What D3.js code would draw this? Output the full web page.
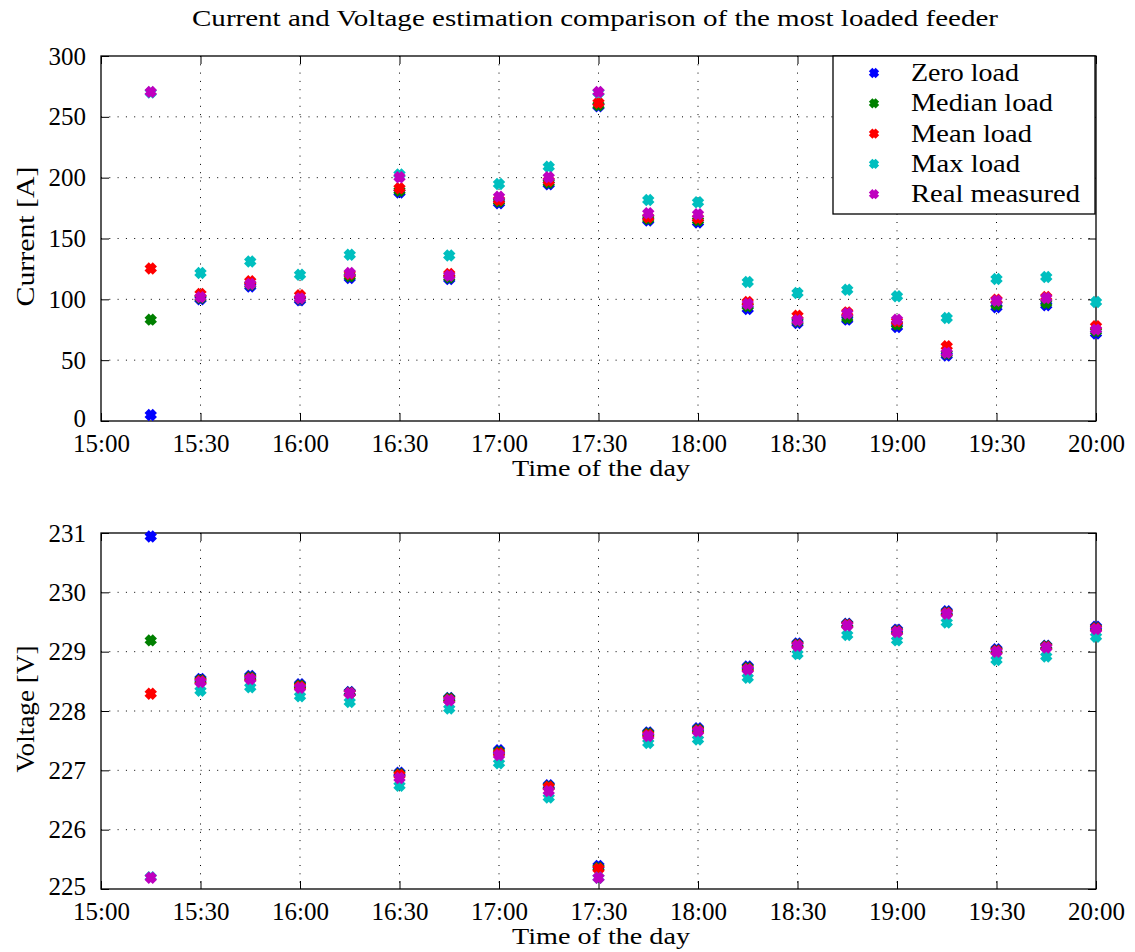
<!DOCTYPE html>
<html>
<head>
<meta charset="utf-8">
<script src="https://cdn.jsdelivr.net/npm/d3@7"></script>
<style>
  body { margin: 0; background: #fff; }
  svg text { font-family: "Liberation Serif", "DejaVu Serif", serif; fill: #000; }
</style>
</head>
<body>
<div id="chart"></div>
<script>
// time points (15:15 ... 20:00)
var times = ["15:15","15:30","15:45","16:00","16:15","16:30","16:45","17:00","17:15","17:30",
             "17:45","18:00","18:15","18:30","18:45","19:00","19:15","19:30","19:45","20:00"];
var seriesNames = ["Zero load", "Median load", "Mean load", "Max load", "Real measured"];
var seriesColors = ["#0000ff", "#008000", "#ff0000", "#00bfbf", "#bf00bf"];
// legend text widths (the reference font is wider than Times)
var legendWidths = [108, 142, 121, 109, 169];

// current [A]
var curZero   = [4.9, 100.0, 110.5, 99.3, 117.5, 187.8, 116.7, 179.0, 194.5, 258.7, 164.8, 163.1, 92.1, 80.6, 83.3, 77.3, 53.8, 93.4, 95.1, 71.9];
var curMedian = [83.3, 101.0, 112.0, 100.5, 118.9, 189.3, 118.0, 180.3, 195.9, 259.6, 166.1, 164.8, 94.3, 82.0, 84.7, 79.2, 55.2, 95.6, 97.0, 73.8];
var curMean   = [125.4, 104.5, 114.8, 103.3, 120.8, 191.3, 120.8, 181.7, 197.5, 261.5, 167.5, 166.7, 97.8, 86.6, 89.3, 82.0, 61.5, 99.7, 101.9, 77.9];
var curMax    = [270.0, 121.6, 131.1, 120.2, 136.6, 202.7, 136.0, 194.8, 209.0, 270.0, 181.7, 179.8, 114.2, 105.2, 107.9, 102.5, 84.7, 116.7, 118.3, 97.8];
var curReal   = [270.5, 101.8, 112.6, 100.8, 121.6, 200.3, 119.4, 184.4, 200.3, 270.5, 170.8, 169.9, 96.2, 82.8, 88.3, 83.3, 56.0, 98.9, 101.1, 75.1];

// voltage [V]
var volZero   = [230.94, 228.54, 228.59, 228.45, 228.32, 226.96, 228.22, 227.34, 226.75, 225.39, 227.64, 227.71, 228.75, 229.14, 229.47, 229.37, 229.68, 229.04, 229.10, 229.42];
var volMedian = [229.19, 228.52, 228.57, 228.43, 228.31, 226.94, 228.21, 227.31, 226.73, 225.36, 227.62, 227.69, 228.73, 229.12, 229.46, 229.35, 229.66, 229.02, 229.09, 229.40];
var volMean   = [228.29, 228.50, 228.55, 228.41, 228.30, 226.92, 228.19, 227.29, 226.72, 225.34, 227.60, 227.67, 228.71, 229.11, 229.45, 229.34, 229.65, 229.01, 229.08, 229.39];
var volMax    = [225.20, 228.34, 228.40, 228.25, 228.15, 226.74, 228.04, 227.12, 226.54, 225.19, 227.46, 227.52, 228.56, 228.96, 229.28, 229.19, 229.49, 228.86, 228.92, 229.25];
var volReal   = [225.19, 228.49, 228.54, 228.39, 228.30, 226.87, 228.18, 227.26, 226.65, 225.19, 227.58, 227.66, 228.70, 229.10, 229.44, 229.33, 229.64, 229.00, 229.07, 229.38];

var xTicks = ["15:00","15:30","16:00","16:30","17:00","17:30","18:00","18:30","19:00","19:30","20:00"];
var curTicks = [0, 50, 100, 150, 200, 250, 300];
var volTicks = [225, 226, 227, 228, 229, 230, 231];

var W = 1135, H = 952;
var parse = d3.timeParse("%H:%M");

var svg = d3.select("#chart").append("svg")
  .attr("width", W).attr("height", H);

svg.append("text")
  .attr("x", 595).attr("y", 26)
  .attr("text-anchor", "middle")
  .attr("textLength", 806).attr("lengthAdjust", "spacingAndGlyphs")
  .style("font-size", "23.5px")
  .text("Current and Voltage estimation comparison of the most loaded feeder");

var left = 101, right = 1096;
var x = d3.scaleTime()
  .domain([parse("15:00"), parse("20:00")])
  .range([left, right]);

// X shaped marker
function xMarker(R, t) {
  var pts = [[t,R],[t,t],[R,t],[R,-t],[t,-t],[t,-R],[-t,-R],[-t,-t],[-R,-t],[-R,t],[-t,t],[-t,R]];
  var c = Math.SQRT1_2;
  return "M" + pts.map(function(p){ return [(p[0]-p[1])*c, (p[0]+p[1])*c].join(","); }).join("L") + "Z";
}
var markerPath = xMarker(5.8, 3.0);
var legendMarker = xMarker(4.8, 2.5);

function drawPanel(top, bottom, domain, ticks, series, ylabel, ylabelLen, legend) {
  var y = d3.scaleLinear().domain(domain).range([bottom, top]);
  var g = svg.append("g");

  // grid
  g.append("g").selectAll("line").data(ticks.slice(1, -1)).enter().append("line")
    .attr("x1", left).attr("x2", right)
    .attr("y1", function(d){ return y(d); }).attr("y2", function(d){ return y(d); })
    .attr("stroke", "#000").attr("stroke-width", 1).attr("stroke-dasharray", "1,7.3");
  g.append("g").selectAll("line").data(xTicks.slice(1, -1)).enter().append("line")
    .attr("x1", function(d){ return x(parse(d)); }).attr("x2", function(d){ return x(parse(d)); })
    .attr("y1", top).attr("y2", bottom)
    .attr("stroke", "#000").attr("stroke-width", 1).attr("stroke-dasharray", "1,7.3");

  // axes with inward ticks on all sides
  var xb = d3.axisBottom(x).tickValues(xTicks.map(parse)).tickFormat(d3.timeFormat("%H:%M"))
    .tickSizeInner(-8).tickSizeOuter(0).tickPadding(13);
  var xt = d3.axisTop(x).tickValues(xTicks.map(parse)).tickFormat("").tickSizeInner(-8).tickSizeOuter(0);
  var yl = d3.axisLeft(y).tickValues(ticks).tickFormat(d3.format("d"))
    .tickSizeInner(-8).tickSizeOuter(0).tickPadding(15);
  var yr = d3.axisRight(y).tickValues(ticks).tickFormat("").tickSizeInner(-8).tickSizeOuter(0);

  [[xb, "translate(0," + bottom + ")"], [xt, "translate(0," + top + ")"],
   [yl, "translate(" + left + ",0)"], [yr, "translate(" + right + ",0)"]].forEach(function(a){
    var ax = g.append("g").attr("transform", a[1]).call(a[0]);
    ax.select(".domain").remove();
    ax.selectAll("line").attr("stroke", "#000").attr("stroke-width", 1);
    ax.selectAll("text").style("font-size", "25px").attr("font-family", null);
  });
  // lowest y label sits just above the time labels
  g.selectAll(".tick text").filter(function(d){ return d === domain[0]; }).attr("dy", "0.2em");

  g.append("rect")
    .attr("x", left).attr("y", top)
    .attr("width", right - left).attr("height", bottom - top)
    .attr("fill", "none").attr("stroke", "#000").attr("stroke-width", 1.3);

  // points, in series order
  series.forEach(function(vals, si) {
    g.append("g").selectAll("path").data(vals).enter().append("path")
      .attr("d", markerPath)
      .attr("transform", function(d, i){ return "translate(" + x(parse(times[i])) + "," + y(d) + ")"; })
      .attr("fill", seriesColors[si]);
  });

  g.append("text")
    .attr("transform", "translate(34," + ((top + bottom) / 2 - 2) + ") rotate(-90)")
    .attr("text-anchor", "middle")
    .attr("textLength", ylabelLen).attr("lengthAdjust", "spacingAndGlyphs")
    .style("font-size", "25px")
    .text(ylabel);

  g.append("text")
    .attr("x", 601).attr("y", bottom + 55)
    .attr("text-anchor", "middle")
    .attr("textLength", 178).attr("lengthAdjust", "spacingAndGlyphs")
    .style("font-size", "24px")
    .text("Time of the day");

  if (legend) {
    var lg = g.append("g").attr("transform", "translate(833," + top + ")");
    lg.append("rect").attr("width", 262).attr("height", 158)
      .attr("fill", "#fff").attr("stroke", "#000").attr("stroke-width", 1.3);
    seriesNames.forEach(function(name, i) {
      var row = lg.append("g").attr("transform", "translate(0," + (17 + i * 30.3) + ")");
      row.append("path").attr("d", legendMarker)
        .attr("transform", "translate(41,0)").attr("fill", seriesColors[i]);
      row.append("text").attr("x", 78).attr("y", 8)
        .attr("textLength", legendWidths[i]).attr("lengthAdjust", "spacingAndGlyphs")
        .style("font-size", "25px").text(name);
    });
  }
}

drawPanel(56, 421, [0, 300], curTicks, [curZero, curMedian, curMean, curMax, curReal], "Current [A]", 140, true);
drawPanel(533, 889, [225, 231], volTicks, [volZero, volMedian, volMean, volMax, volReal], "Voltage [V]", 127, false);
</script>
</body>
</html>
